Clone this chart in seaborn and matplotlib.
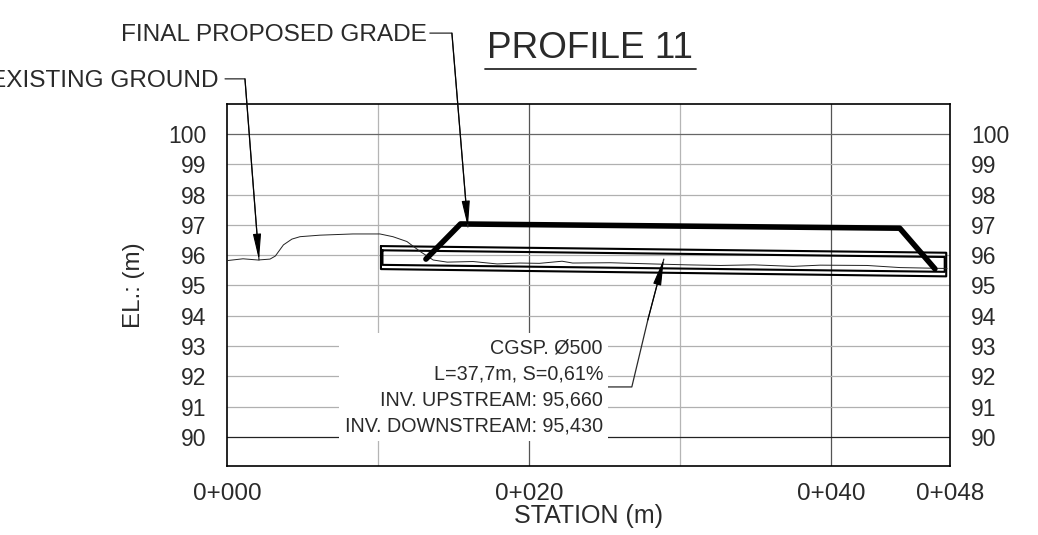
import matplotlib
matplotlib.use("Agg")
import matplotlib.pyplot as plt
import pandas as pd
import seaborn as sns

ground_x = [0, 1.06, 2.05, 2.85, 3.2, 3.74, 4.3, 4.84, 6.16, 8.34, 10.13, 10.99, 11.92, 12.8, 13.66, 14.59, 16.3, 17.9, 19.4, 20.7, 22.2, 22.9, 25.4, 28.2, 30.5, 32.7, 34.9, 37.5, 39.3, 42.4, 44.6, 47.7]
ground_y = [95.82, 95.88, 95.84, 95.87, 95.97, 96.34, 96.53, 96.61, 96.66, 96.70, 96.70, 96.61, 96.45, 96.12, 95.84, 95.77, 95.79, 95.71, 95.74, 95.73, 95.80, 95.74, 95.75, 95.71, 95.68, 95.66, 95.68, 95.63, 95.67, 95.66, 95.59, 95.56]
grade_x = [13.18, 15.47, 44.57, 46.9]
grade_y = [95.87, 97.03, 96.89, 95.55]
pipe_outer_x = [10.2, 47.65, 47.65, 10.2, 10.2]
pipe_outer_y = [96.30, 96.08, 95.30, 95.54, 96.30]
pipe_inner_x = [10.3, 47.55, 47.55, 10.3, 10.3]
pipe_inner_y = [96.16, 95.94, 95.45, 95.68, 96.16]
y_ticks = list(range(90, 101))
x_ticks = [0, 20, 40, 47.9]
x_labels = ["0+000", "0+020", "0+040", "0+048"]
grid_x = [10, 20, 30, 40]
pipe_note = ["CGSP. Ø500", "L=37,7m, S=0,61%", "INV. UPSTREAM: 95,660", "INV. DOWNSTREAM: 95,430"]

sns.set_theme(style="white")
plt.rcParams["font.family"] = ["Liberation Sans", "DejaVu Sans"]
INK = "#2a2a2a"

fig = plt.figure(figsize=(10.38, 5.35), dpi=100)
ax = fig.add_axes([227 / 1038, 1 - 466 / 535, 723 / 1038, 362 / 535])

# grid
for v in grid_x:
    ax.axvline(v, color="#555555" if v in (20, 40) else "#b5b5b5", lw=0.9, zorder=1)
for v in y_ticks:
    col = "#222222" if v == 90 else ("#666666" if v == 100 else "#b0b0b0")
    ax.axhline(v, color=col, lw=0.9, zorder=1)

# data
sns.lineplot(x=pipe_outer_x, y=pipe_outer_y, sort=False, estimator=None, color="black", lw=1.5, ax=ax, zorder=3)
sns.lineplot(x=pipe_inner_x, y=pipe_inner_y, sort=False, estimator=None, color="black", lw=1.5, ax=ax, zorder=3)
sns.lineplot(data=pd.DataFrame({"x": ground_x, "y": ground_y}), x="x", y="y", sort=False, estimator=None,
             color="#222222", lw=0.7, ax=ax, zorder=4)
sns.lineplot(data=pd.DataFrame({"x": grade_x, "y": grade_y}), x="x", y="y", sort=False, estimator=None,
             color="black", lw=4.0, ax=ax, zorder=5)

ax.set_xlim(0, 47.9)
ax.set_ylim(89.04, 100.99)
ax.set_xticks(x_ticks, x_labels)
ax.set_yticks(y_ticks)
ax.tick_params(axis="x", length=0, labelsize=17.5, labelcolor=INK, pad=12)
ax.tick_params(axis="y", length=0, labelsize=16.5, labelcolor=INK, pad=15, labelright=True)
for s in ax.spines.values():
    s.set_visible(True)
    s.set_color("black")
    s.set_linewidth(1.2)
ax.set_xlabel("STATION (m)", fontsize=18, color=INK)
ax.xaxis.set_label_coords(0.50, -0.105)
ax.set_ylabel("EL.: (m)", fontsize=17.4, color=INK)
ax.yaxis.set_label_coords(-0.114, 0.5)

# note box and text
fig.add_artist(plt.Rectangle((339 / 1038, 1 - 441 / 535), 269 / 1038, 108 / 535, transform=fig.transFigure,
                             facecolor="white", edgecolor="none", zorder=2))
fig.text(603 / 1038, 1 - 387 / 535, "\n".join(pipe_note), ha="right", va="center", ma="right",
         fontsize=14.2, color=INK, linespacing=1.47, zorder=6)

# leaders
def leader(xs, ys, tip):
    ax.plot(xs + [tip[0]], ys + [tip[1]], color=INK, lw=0.9, clip_on=False, zorder=7)
    ax.annotate("", xy=tip, xytext=(xs[-1], ys[-1]), annotation_clip=False, zorder=8,
                arrowprops=dict(arrowstyle="-|>,head_length=1.6,head_width=0.25", mutation_scale=10,
                                color="black", lw=0.8, shrinkA=0, shrinkB=0))

leader([13.44, 14.9], [103.33, 103.33], (15.96, 96.93))
leader([-0.13, 1.19], [101.82, 101.82], (2.12, 95.84))
leader([25.23, 26.82, 27.88], [91.65, 91.65, 93.86], (28.94, 95.87))

fig.text(427 / 1038, 1 - 35 / 535, "FINAL PROPOSED GRADE", ha="right", va="center", fontsize=17.6, color=INK)
fig.text(218 / 1038, 1 - 81 / 535, "EXISTING GROUND", ha="right", va="center", fontsize=17.6, color=INK)
fig.text(590 / 1038, 1 - 48 / 535, "PROFILE 11", ha="center", va="center", fontsize=26.6, color=INK)
fig.add_artist(plt.Line2D([485 / 1038, 696 / 1038], [1 - 69 / 535] * 2, color=INK, lw=1.3))

fig.savefig("out.png", dpi=100)
